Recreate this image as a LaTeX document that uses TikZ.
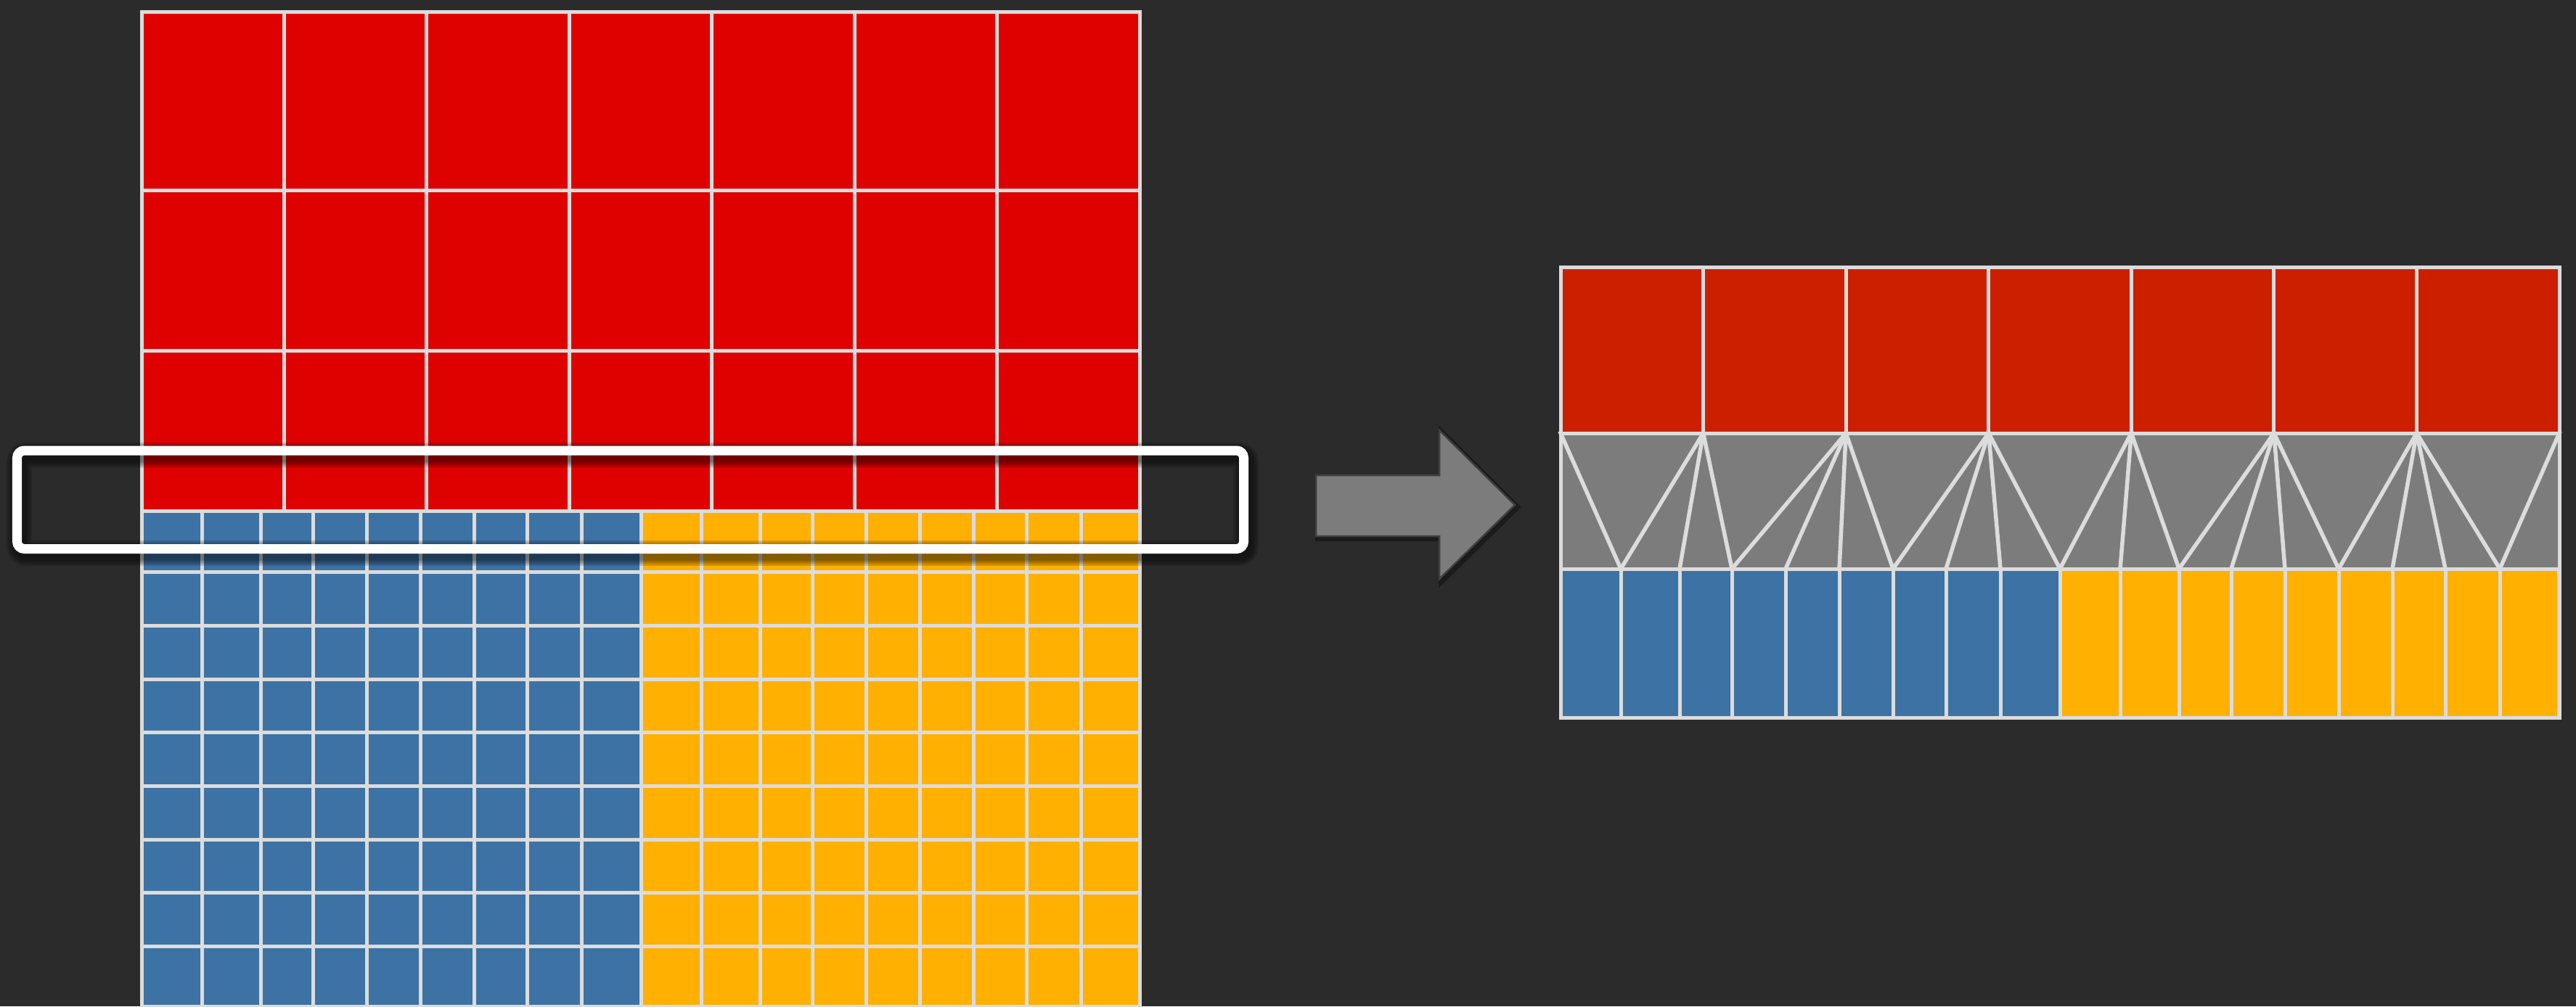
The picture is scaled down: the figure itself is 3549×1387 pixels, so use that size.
\documentclass[tikz,border=0pt]{standalone}
\definecolor{bg}{HTML}{2B2B2B}
\definecolor{redA}{HTML}{DF0000}
\definecolor{redB}{HTML}{CC1F00}
\definecolor{blueA}{HTML}{3D72A5}
\definecolor{yellowA}{HTML}{FFB000}
\definecolor{grayA}{HTML}{7C7C7C}
\definecolor{lineA}{HTML}{DCDCDC}

\begin{document}
\begin{tikzpicture}[
  x=0.01cm, y=-0.01cm,
  grid/.style={draw=lineA,line width=0.05cm,line cap=rect},
  frame/.style={draw=white,line width=0.13cm,rounded corners=0.1cm},
  blockarrow/.style={fill=grayA,draw=black!75,line width=0.025cm,line join=miter}
]
\path[use as bounding box,fill=bg] (0,0) rectangle (3549,1387);

% column borders of the small cells, shared by both bands
\def\cols{0,83,164,236,310,384,458,531,606,688,771,852,924,998,1072,1146,1219,1294,1375}

% left: whole block, cut by the page
\begin{scope}
\clip (0,0) rectangle (3549,1387);
\fill[redA] (195,16) rectangle (1570,704);
\fill[blueA] (195,704) rectangle (883,1460);
\fill[yellowA] (883,704) rectangle (1570,1460);
\foreach \y in {16,262,483,704,788,862,936,1009,1083,1157,1230,1304,1387}
  \draw[grid] (195,\y) -- (1570,\y);
\foreach \i in {0,...,7}
  \draw[grid] ({195+\i*196.43},16) -- ({195+\i*196.43},704);
\foreach \x in \cols
  \draw[grid] (195+\x,704) -- (195+\x,1460);
\end{scope}

% selection frame with soft shadow
\foreach \w in {0.35,0.3,0.25,0.2}
  \draw[black,opacity=0.15,line width=\w cm,rounded corners=0.1cm,xshift=0.03cm,yshift=-0.06cm]
    (23.5,621) rectangle (1713.5,756.5);
\draw[frame] (23.5,621) rectangle (1713.5,756.5);

% arrow
\draw[blockarrow,preaction={draw=black,opacity=0.35,line width=0.08cm,transform canvas={xshift=0.03cm,yshift=-0.03cm}}]
  (1813,655) -- (1983,655) -- (1983,593) -- (2087,696) -- (1983,798) -- (1983,739) -- (1813,739) -- cycle;

% right: the band after the cut
\fill[redB] (2150,368) rectangle (3526,597);
\fill[grayA] (2150,597) rectangle (3526,784);
\fill[blueA] (2150,784) rectangle (2838,989);
\fill[yellowA] (2838,784) rectangle (3526,989);

\foreach \i in {0,...,7}
  \coordinate (t\i) at ({2150+\i*196.57},597);
\foreach \x [count=\j from 0] in \cols
  \coordinate (b\j) at (2150+\x,784);

\foreach \a/\b in {0/1,1/1,1/2,1/3,2/3,2/4,2/5,2/6,3/6,3/7,3/8,3/9,4/9,4/10,4/11,
                   5/11,5/12,5/13,5/14,6/14,6/15,6/16,6/17,7/17}
  \draw[grid,line width=0.055cm] (t\a) -- (b\b);

\foreach \i in {1,...,6}
  \draw[grid] (t\i) -- ++(0,-229);
\foreach \x in \cols
  \draw[grid] (2150+\x,784) -- (2150+\x,989);
\draw[grid] (2150,597) -- (3526,597);
\draw[grid] (2150,784) -- (3526,784);
\draw[grid] (2150,368) rectangle (3526,989);
\end{tikzpicture}
\end{document}
